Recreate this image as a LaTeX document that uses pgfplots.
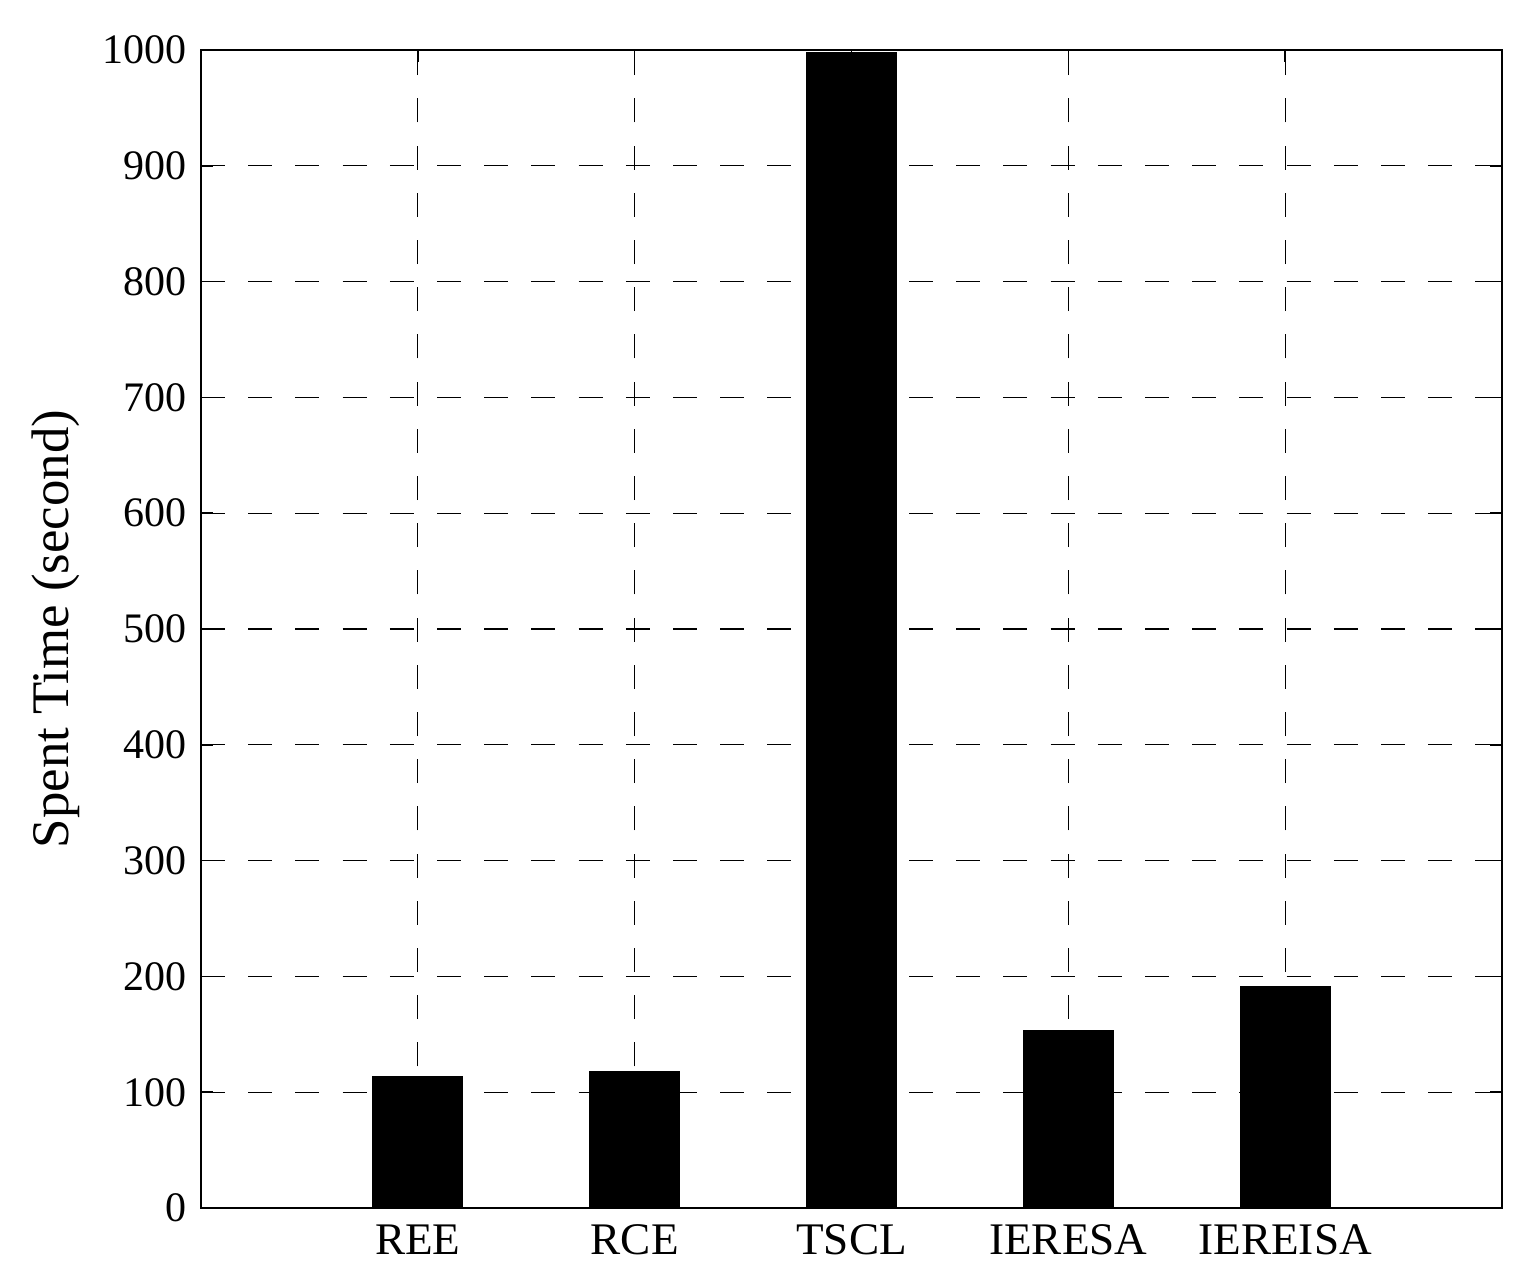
\documentclass[border=0pt]{standalone}
\usepackage{pgfplots}
\pgfplotsset{compat=1.18}
\usepackage{fontspec}
\setmainfont{Liberation Serif}
\begin{document}
\begin{tikzpicture}
\begin{axis}[
  width=325.25pt, height=289.5pt, scale only axis,
  xmin=0, xmax=6, ymin=0, ymax=1000,
  xtick={1,2,3,4,5},
  xticklabels={REE,RCE,TSCL,IERESA,IEREISA},
  ytick={0,100,...,1000},
  ylabel={Spent Time (second)},
  ylabel style={font=\fontsize{13.2}{15}\selectfont, yshift=-1pt},
  yticklabel style={font=\fontsize{10.5}{12}\selectfont, /pgf/number format/1000 sep={}},
  xticklabel style={font=\fontsize{11.3}{13}\selectfont, text height=8pt, text depth=0pt},
  /pgf/number format/assume math mode=true,
  grid=major,
  major grid style={black, line width=0.3pt, dash pattern=on 6pt off 5.8pt},
  axis line style={line width=0.5pt},
  tick style={black, line width=0.4pt},
  tick align=inside,
  major tick length=3pt,
  ytick pos=both, xtick pos=both,
]
\addplot[ybar, bar width=0.414, fill=black, draw=black, line width=0pt] coordinates {
(1,113.4) (2,117.7) (3,998) (4,153) (5,191)};
\end{axis}
\pgfresetboundingbox
\path ([shift={(-50.25pt,-16.75pt)}]current axis.south west) rectangle ([shift={(6.5pt,12.5pt)}]current axis.north east);
\end{tikzpicture}
\end{document}
